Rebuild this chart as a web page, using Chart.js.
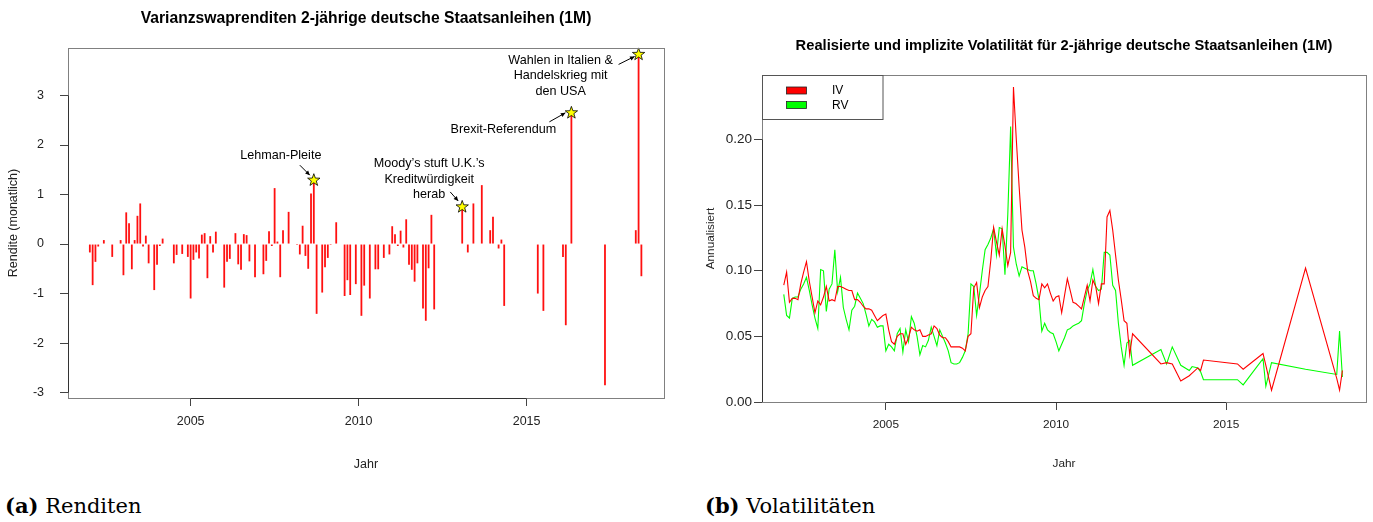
<!DOCTYPE html>
<html lang="de">
<head>
<meta charset="utf-8">
<title>Varianzswaprenditen und Volatilitäten</title>
<script src="https://cdn.jsdelivr.net/npm/chart.js@4.4.1/dist/chart.umd.min.js"></script>
<style>
  html, body { margin: 0; padding: 0; background: #fff; }
  #seite { position: relative; width: 1373px; height: 522px; overflow: hidden; }
  canvas { position: absolute; top: 0; }
  #links { left: 0; }
  #rechts { left: 690px; }
  .unterschrift { position: absolute; top: 493px; font-family: "DejaVu Serif", serif; font-size: 21px; color: #000; white-space: nowrap; }
</style>
</head>
<body>
<div id="seite">
  <canvas id="links" width="690" height="480"></canvas>
  <canvas id="rechts" width="683" height="480"></canvas>
  <div class="unterschrift" style="left:5px"><b>(a)</b> Renditen</div>
  <div class="unterschrift" style="left:705px"><b>(b)</b> Volatilitäten</div>
</div>
<script>
// Monatliche Varianzswaprenditen (nur Monate mit Daten)
const renditeMonate = [
  '2002-01', '2002-02', '2002-03', '2002-04', '2002-06', '2002-09', '2002-12',
  '2003-01', '2003-02', '2003-03', '2003-04', '2003-05', '2003-06', '2003-07', '2003-08', '2003-09', '2003-10', '2003-12',
  '2004-01', '2004-02', '2004-03', '2004-05', '2004-07', '2004-08', '2004-10', '2004-12',
  '2005-01', '2005-02', '2005-03', '2005-04', '2005-05', '2005-06', '2005-07', '2005-08', '2005-09', '2005-10', '2005-12',
  '2006-01', '2006-02', '2006-03', '2006-05', '2006-06', '2006-07', '2006-08', '2006-09', '2006-10', '2006-12',
  '2007-03', '2007-04', '2007-05', '2007-06', '2007-07', '2007-08', '2007-09', '2007-10', '2007-12',
  '2008-03', '2008-04', '2008-05', '2008-06', '2008-07', '2008-08', '2008-09', '2008-10', '2008-12',
  '2009-01', '2009-02', '2009-03', '2009-05', '2009-07', '2009-08', '2009-09', '2009-10', '2009-12',
  '2010-02', '2010-03', '2010-05', '2010-07', '2010-08', '2010-10', '2010-12',
  '2011-01', '2011-02', '2011-03', '2011-04', '2011-05', '2011-06', '2011-07', '2011-08', '2011-09', '2011-10', '2011-12',
  '2012-01', '2012-02', '2012-03', '2012-04',
  '2013-02', '2013-04', '2013-06', '2013-09', '2013-12',
  '2014-01', '2014-03', '2014-04', '2014-05',
  '2015-05', '2015-07',
  '2016-02', '2016-03', '2016-05',
  '2017-05',
  '2018-04', '2018-05', '2018-06'
];
const renditeWerte = [
  -0.17, -0.83, -0.36, -0.05, 0.08, -0.26, 0.08,
  -0.63, 0.64, 0.42, -0.51, 0.08, 0.57, 0.82, -0.05, 0.17, -0.39, -0.93,
  -0.42, -0.04, 0.11, 0.01, -0.39, -0.22, -0.20, -0.26,
  -1.10, -0.32, -0.17, -0.29, 0.19, 0.22, -0.69, 0.16, -0.17, 0.25, 0.01,
  -0.88, -0.36, -0.30, 0.22, -0.41, -0.52, 0.20, 0.18, -0.35, -0.67,
  -0.61, -0.34, 0.26, -0.04, 1.13, 0.05, -0.67, 0.28, 0.65,
  -0.02, -0.21, 0.37, -0.24, -0.50, 1.02, 1.29, -1.41, -0.98,
  -0.47, -0.28, -0.02, 0.44, -0.01, -1.05, -0.73, -1.03, -0.81,
  -1.45, -0.84, -1.10, -0.51, -0.51, -0.28, -0.21,
  0.36, 0.20, -0.04, 0.27, -0.07, 0.50, -0.42, -0.52, -0.76, -0.39, -1.30,
  -1.55, -0.49, 0.59, -1.32,
  0.75, -0.17, 0.82, 1.19, 0.28,
  0.55, -0.09, 0.09, -1.25,
  -1.00, -1.35,
  -0.26, -1.64, 2.65,
  -2.85,
  0.28, 3.83, -0.65
];

// Markierte Ereignisse
const ereignisMonate = ['2008-09', '2013-02', '2016-05', '2018-05'];
const ereignisTexte = [
  ['Lehman-Pleite'],
  ['Moody\u2019s stuft U.K.\u2019s', 'Kreditwürdigkeit', 'herab'],
  ['Brexit-Referendum'],
  ['Wahlen in Italien &', 'Handelskrieg mit', 'den USA']
];

// Implizite (IV) und realisierte (RV) Volatilität
const volMonate = [
  '2002-01', '2002-02', '2002-03', '2002-04', '2002-05', '2002-06', '2002-07', '2002-08', '2002-09', '2002-10', '2002-11', '2002-12',
  '2003-01', '2003-02', '2003-03', '2003-04', '2003-05', '2003-06', '2003-07', '2003-08', '2003-09', '2003-10', '2003-11', '2003-12',
  '2004-01', '2004-02', '2004-03', '2004-04', '2004-05', '2004-06', '2004-07', '2004-08', '2004-09', '2004-10', '2004-11', '2004-12',
  '2005-01', '2005-02', '2005-03', '2005-04', '2005-05', '2005-06', '2005-07', '2005-08', '2005-09', '2005-10', '2005-11', '2005-12',
  '2006-01', '2006-02', '2006-03', '2006-04', '2006-05', '2006-06', '2006-07', '2006-08', '2006-09', '2006-10', '2006-11', '2006-12',
  '2007-01', '2007-02', '2007-03', '2007-04', '2007-05', '2007-06', '2007-07', '2007-08', '2007-09', '2007-10', '2007-11', '2007-12',
  '2008-01', '2008-02', '2008-03', '2008-04', '2008-05', '2008-06', '2008-07', '2008-08', '2008-09', '2008-10', '2008-11', '2008-12',
  '2009-01', '2009-02', '2009-03', '2009-04', '2009-05', '2009-06', '2009-07', '2009-08', '2009-09', '2009-10', '2009-11', '2009-12',
  '2010-01', '2010-02', '2010-03', '2010-04', '2010-05', '2010-06', '2010-07', '2010-08', '2010-09', '2010-10', '2010-11', '2010-12',
  '2011-01', '2011-02', '2011-03', '2011-04', '2011-05', '2011-06', '2011-07', '2011-08', '2011-09', '2011-10', '2011-11', '2011-12',
  '2012-01', '2012-02', '2012-03', '2012-04',
  '2013-02', '2013-04', '2013-06', '2013-09', '2013-12', '2014-01', '2014-03', '2014-04', '2014-05',
  '2015-05', '2015-07', '2016-02', '2016-03', '2016-05', '2017-05', '2018-04', '2018-05', '2018-06'
];
const ivWerte = [
  0.089, 0.099, 0.076, 0.079, 0.079, 0.078, 0.090, 0.099, 0.107, 0.092, 0.080, 0.068,
  0.077, 0.074, 0.080, 0.088, 0.077, 0.078, 0.077, 0.088, 0.088, 0.087, 0.086, 0.085,
  0.085, 0.078, 0.078, 0.076, 0.073, 0.071, 0.071, 0.070, 0.066, 0.062, 0.064, 0.066,
  0.067, 0.055, 0.046, 0.044, 0.050, 0.052, 0.052, 0.044, 0.049, 0.057, 0.055, 0.054,
  0.055, 0.050, 0.050, 0.051, 0.052, 0.058, 0.056, 0.051, 0.049, 0.049, 0.046, 0.042,
  0.042, 0.042, 0.042, 0.041, 0.039, 0.050, 0.052, 0.087, 0.091, 0.072, 0.080, 0.085,
  0.088, 0.108, 0.133, 0.122, 0.112, 0.132, 0.119, 0.104, 0.114, 0.240, 0.200, 0.164,
  0.131, 0.118, 0.100, 0.092, 0.081, 0.079, 0.078, 0.090, 0.087, 0.090, 0.083, 0.077,
  0.080, 0.081, 0.068, 0.081, 0.094, 0.085, 0.076, 0.075, 0.073, 0.071, 0.080, 0.089,
  0.077, 0.093, 0.088, 0.075, 0.090, 0.090, 0.141, 0.146, 0.131, 0.112, 0.093, 0.078,
  0.062, 0.060, 0.036, 0.052,
  0.029, 0.030, 0.029, 0.016, 0.020, 0.022, 0.026, 0.024, 0.032,
  0.029, 0.025, 0.037, 0.028, 0.009, 0.102, 0.018, 0.009, 0.024
];
const rvWerte = [
  0.082, 0.066, 0.064, 0.079, 0.080, 0.080, 0.086, 0.090, 0.095, 0.085, 0.074, 0.064,
  0.056, 0.101, 0.100, 0.069, 0.086, 0.090, 0.116, 0.084, 0.095, 0.072, 0.063, 0.055,
  0.070, 0.073, 0.083, 0.079, 0.075, 0.067, 0.058, 0.063, 0.061, 0.057, 0.058, 0.058,
  0.039, 0.044, 0.042, 0.039, 0.052, 0.056, 0.038, 0.055, 0.046, 0.065, 0.060, 0.050,
  0.036, 0.043, 0.042, 0.047, 0.057, 0.050, 0.043, 0.055, 0.050, 0.045, 0.039, 0.030,
  0.029, 0.029, 0.030, 0.034, 0.039, 0.052, 0.090, 0.088, 0.066, 0.082, 0.100, 0.116,
  0.120, 0.125, 0.132, 0.112, 0.133, 0.132, 0.097, 0.143, 0.210, 0.118, 0.105, 0.096,
  0.103, 0.102, 0.101, 0.100, 0.100, 0.090, 0.078, 0.054, 0.060, 0.055, 0.053, 0.052,
  0.046, 0.039, 0.044, 0.049, 0.055, 0.056, 0.058, 0.059, 0.060, 0.062, 0.075, 0.085,
  0.090, 0.101, 0.088, 0.085, 0.086, 0.114, 0.114, 0.112, 0.089, 0.085, 0.060, 0.042,
  0.028, 0.045, 0.047, 0.028,
  0.040, 0.029, 0.042, 0.028, 0.024, 0.027, 0.026, 0.023, 0.017,
  0.017, 0.013, 0.033, 0.012, 0.030, 0.025, 0.021, 0.054, 0.019
];

// Achsenbeschriftungen
const jahrTicks = [2005, 2010, 2015];
const renditeTicks = [-3, -2, -1, 0, 1, 2, 3];
const volTicks = [0, 0.05, 0.10, 0.15, 0.20];

const schrift = '"Liberation Sans", Arial, Helvetica, sans-serif';

// 'JJJJ-MM' -> Jahr als Dezimalzahl
const zuJahr = s => {
  const [j, m] = s.split('-').map(Number);
  return j + (m - 1) / 12;
};

// Rahmen um die Zeichenfläche und Achsenlinien wie in R
const rahmenPlugin = {
  id: 'rahmen',
  afterDraw(chart) {
    const { ctx, chartArea: a, scales: { x, y } } = chart;
    ctx.save();
    ctx.lineWidth = 1;
    ctx.strokeStyle = '#808080';
    ctx.strokeRect(a.left + 0.5, a.top + 0.5, a.right - a.left, a.bottom - a.top);
    ctx.strokeStyle = '#333';
    const xt = x.ticks.map(t => x.getPixelForValue(t.value));
    const yt = y.ticks.map(t => y.getPixelForValue(t.value));
    ctx.beginPath();
    ctx.moveTo(Math.min(...xt), a.bottom + 0.5);
    ctx.lineTo(Math.max(...xt), a.bottom + 0.5);
    ctx.moveTo(a.left + 0.5, Math.min(...yt));
    ctx.lineTo(a.left + 0.5, Math.max(...yt));
    ctx.stroke();
    ctx.restore();
  }
};

// Überschrift mittig über der Zeichenfläche
const titelPlugin = {
  id: 'titel',
  afterDraw(chart, args, opts) {
    const { ctx, chartArea: a } = chart;
    ctx.save();
    ctx.font = `bold ${opts.groesse}px ${schrift}`;
    ctx.fillStyle = '#000';
    ctx.textAlign = 'center';
    ctx.textBaseline = 'middle';
    ctx.fillText(opts.text, (a.left + a.right) / 2, opts.y);
    ctx.restore();
  }
};

function stern(ctx, cx, cy, r1, r2) {
  ctx.beginPath();
  for (let i = 0; i < 10; i++) {
    const r = i % 2 === 0 ? r1 : r2;
    const w = -Math.PI / 2 + i * Math.PI / 5;
    const px = cx + r * Math.cos(w), py = cy + r * Math.sin(w);
    if (i === 0) ctx.moveTo(px, py); else ctx.lineTo(px, py);
  }
  ctx.closePath();
  ctx.fillStyle = '#ffff00';
  ctx.fill();
  ctx.strokeStyle = '#000';
  ctx.lineWidth = 0.8;
  ctx.stroke();
}

function pfeil(ctx, x1, y1, x2, y2) {
  const w = Math.atan2(y2 - y1, x2 - x1);
  ctx.beginPath();
  ctx.moveTo(x1, y1);
  ctx.lineTo(x2, y2);
  ctx.strokeStyle = '#000';
  ctx.lineWidth = 1;
  ctx.stroke();
  ctx.beginPath();
  ctx.moveTo(x2, y2);
  ctx.lineTo(x2 - 5 * Math.cos(w - 0.45), y2 - 5 * Math.sin(w - 0.45));
  ctx.lineTo(x2 - 5 * Math.cos(w + 0.45), y2 - 5 * Math.sin(w + 0.45));
  ctx.closePath();
  ctx.fillStyle = '#000';
  ctx.fill();
}

// Versatz von Text und Pfeil relativ zum Stern (Pixel)
const ereignisLayout = [
  { text: [-33, -25], pfeil: [-14, -15, -4, -5] },
  { text: [-33, -43], pfeil: [-12, -15, -4, -6] },
  { text: [-68, 17], pfeil: [-22, 9, -6, 0] },
  { text: [-78, 6], pfeil: [-20, 10, -4, 2] }
];

const ereignisPlugin = {
  id: 'ereignisse',
  afterDatasetsDraw(chart) {
    const { ctx, scales: { x, y } } = chart;
    ctx.save();
    ereignisMonate.forEach((m, i) => {
      const wert = renditeWerte[renditeMonate.indexOf(m)];
      const sx = x.getPixelForValue(zuJahr(m));
      const sy = y.getPixelForValue(wert);
      const l = ereignisLayout[i];
      ctx.font = `12.6px ${schrift}`;
      ctx.fillStyle = '#000';
      ctx.textAlign = 'center';
      ctx.textBaseline = 'middle';
      ereignisTexte[i].forEach((zeile, k) => {
        ctx.fillText(zeile, sx + l.text[0], sy + l.text[1] + k * 15.5);
      });
      pfeil(ctx, sx + l.pfeil[0], sy + l.pfeil[1], sx + l.pfeil[2], sy + l.pfeil[3]);
      stern(ctx, sx, sy, 6.5, 2.6);
    });
    ctx.restore();
  }
};

// Legende oben links in der Zeichenfläche
const legendePlugin = {
  id: 'legende',
  afterDraw(chart) {
    const { ctx, chartArea: a } = chart;
    ctx.save();
    ctx.lineWidth = 1;
    ctx.strokeStyle = '#555';
    ctx.strokeRect(a.left + 0.5, a.top + 0.5, 120.5, 44);
    ctx.font = `12px ${schrift}`;
    ctx.textAlign = 'left';
    ctx.textBaseline = 'middle';
    chart.data.datasets.forEach((d, i) => {
      ctx.fillStyle = d.borderColor;
      ctx.fillRect(a.left + 24.5, a.top + 12 + i * 14.5, 20, 7);
      ctx.strokeStyle = '#222';
      ctx.lineWidth = 0.8;
      ctx.strokeRect(a.left + 24.5, a.top + 12 + i * 14.5, 20, 7);
      ctx.fillStyle = '#000';
      ctx.fillText(d.label, a.left + 70, a.top + 16 + i * 14.5);
    });
    ctx.restore();
  }
};

function achse(werte, extra) {
  return Object.assign({
    afterBuildTicks: s => { s.ticks = werte.map(v => ({ value: v })); },
    grid: { offset: false, drawOnChartArea: false, drawTicks: true, tickLength: 8, color: '#444' },
    border: { display: false }
  }, extra);
}

// (a) Renditen
new Chart(document.getElementById('links'), {
  type: 'bar',
  data: {
    datasets: [{
      data: renditeMonate.map((m, i) => ({ x: zuJahr(m), y: renditeWerte[i] })),
      backgroundColor: '#ff1010',
      barThickness: 1.8,
      inflateAmount: 0
    }]
  },
  options: {
    responsive: false,
    animation: false,
    layout: { padding: { top: 48, right: 26, bottom: 0, left: 0 } },
    plugins: {
      legend: { display: false },
      tooltip: { enabled: false },
      titel: { text: 'Varianzswaprenditen 2-jährige deutsche Staatsanleihen (1M)', groesse: 15.7, y: 19 }
    },
    scales: {
      x: achse(jahrTicks, {
        type: 'linear', min: 2001.35, max: 2019.09, offset: false,
        afterFit: s => { s.height = 82; },
        ticks: { font: { family: schrift, size: 12.5 }, color: '#222', padding: 8, maxRotation: 0, autoSkip: false, callback: v => String(v) },
        title: { display: true, text: 'Jahr', font: { family: schrift, size: 12.5 }, color: '#222', padding: { top: 0, bottom: 8 } }
      }),
      y: achse(renditeTicks, {
        min: -3.11, max: 3.96,
        afterFit: s => { s.width = 68; },
        ticks: { font: { family: schrift, size: 12.5 }, color: '#222', padding: 16, callback: v => String(v) },
        title: { display: true, text: 'Rendite (monatlich)', font: { family: schrift, size: 12.5 }, color: '#222', padding: { top: 6, bottom: 0 } }
      })
    }
  },
  plugins: [rahmenPlugin, titelPlugin, ereignisPlugin]
});

// (b) Volatilitäten
new Chart(document.getElementById('rechts'), {
  type: 'line',
  data: {
    datasets: [
      { label: 'IV', data: volMonate.map((m, i) => ({ x: zuJahr(m), y: ivWerte[i] })), borderColor: '#ff0000' },
      { label: 'RV', data: volMonate.map((m, i) => ({ x: zuJahr(m), y: rvWerte[i] })), borderColor: '#00ff00' }
    ]
  },
  options: {
    responsive: false,
    animation: false,
    layout: { padding: { top: 75, right: 7, bottom: 0, left: 0 } },
    elements: { line: { borderWidth: 1.1, tension: 0 }, point: { radius: 0 } },
    plugins: {
      legend: { display: false },
      tooltip: { enabled: false },
      titel: { text: 'Realisierte und implizite Volatilität für 2-jährige deutsche Staatsanleihen (1M)', groesse: 14.7, y: 46 }
    },
    scales: {
      x: achse(jahrTicks, {
        type: 'linear', min: 2001.36, max: 2019.11,
        afterFit: s => { s.height = 78; },
        ticks: { font: { family: schrift, size: 11.8 }, color: '#222', padding: 8, maxRotation: 0, autoSkip: false, callback: v => String(v) },
        title: { display: true, text: 'Jahr', font: { family: schrift, size: 11.8 }, color: '#222', padding: { top: 0, bottom: 9 } }
      }),
      y: achse(volTicks, {
        min: 0, max: 0.2492,
        afterFit: s => { s.width = 72; },
        ticks: { font: { family: schrift, size: 13.5 }, color: '#222', padding: 2, callback: v => v.toFixed(2) },
        title: { display: true, text: 'Annualisiert', font: { family: schrift, size: 11.8 }, color: '#222', padding: { top: 13.5, bottom: 0 } }
      })
    }
  },
  plugins: [rahmenPlugin, titelPlugin, legendePlugin]
});
</script>
</body>
</html>
